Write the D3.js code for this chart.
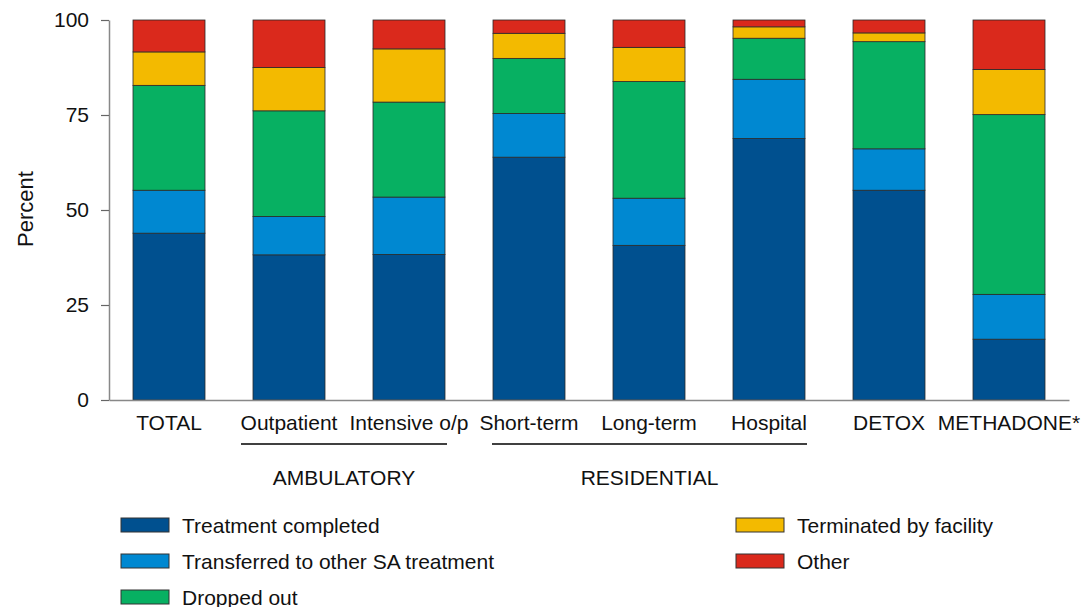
<!DOCTYPE html>
<html>
<head>
<meta charset="utf-8">
<script src="https://cdn.jsdelivr.net/npm/d3@7"></script>
<style>
  html, body { margin: 0; padding: 0; background: #fff; }
  svg { display: block; font-family: "Liberation Sans", Arial, Helvetica, sans-serif; }
</style>
</head>
<body>
<svg id="chart" width="1082" height="607"></svg>
<script>
const categories = ["TOTAL", "Outpatient", "Intensive o/p", "Short-term", "Long-term", "Hospital", "DETOX", "METHADONE*"];
const seriesNames = ["Treatment completed", "Transferred to other SA treatment", "Dropped out", "Terminated by facility", "Other"];
const completed   = [43.9, 38.2, 38.3, 63.9, 40.7, 68.8, 55.2, 16.0];
const transferred = [11.3, 10.1, 15.1, 11.5, 12.4, 15.6, 10.9, 11.8];
const droppedOut  = [27.6, 27.8, 25.0, 14.5, 30.7, 10.8, 28.2, 47.3];
const terminated  = [ 8.8, 11.4, 14.0,  6.6,  9.0,  3.0,  2.3, 11.9];
const other       = [ 8.4, 12.5,  7.6,  3.5,  7.2,  1.8,  3.4, 13.0];
const yTicks = [0, 25, 50, 75, 100];
const groups = [
  { label: "AMBULATORY", from: "Outpatient", to: "Intensive o/p" },
  { label: "RESIDENTIAL", from: "Short-term", to: "Hospital" }
];
const colors = ["#00508F", "#0088D1", "#07B062", "#F3BA00", "#DA291C"];

const seriesValues = [completed, transferred, droppedOut, terminated, other];
const rows = categories.map((c, i) => {
  const r = { cat: c };
  seriesNames.forEach((s, j) => r[s] = seriesValues[j][i]);
  return r;
});

const svg = d3.select("#chart");
const mLeft = 109, mRight = 1069, mTop = 20, mBottom = 400;
const FS = 21;

const x = d3.scaleBand().domain(categories).range([mLeft, mRight]).paddingInner(0.4).paddingOuter(0.2);
const y = d3.scaleLinear().domain([0, 100]).range([mBottom, mTop]);
const color = d3.scaleOrdinal().domain(seriesNames).range(colors);

const stacked = d3.stack().keys(seriesNames)(rows);

// bars
svg.append("g").selectAll("g").data(stacked).join("g")
  .attr("fill", d => color(d.key))
  .selectAll("rect").data(d => d).join("rect")
  .attr("x", d => x(d.data.cat))
  .attr("width", x.bandwidth())
  .attr("y", d => y(Math.min(d[1], 100)))
  .attr("height", d => y(d[0]) - y(Math.min(d[1], 100)))
  .attr("stroke", "#2a2a2a")
  .attr("stroke-width", 0.8);

// y axis
const yAxis = d3.axisLeft(y).tickValues(yTicks).tickSize(8).tickPadding(12).tickSizeOuter(0);
const gy = svg.append("g").attr("transform", `translate(${mLeft},0)`).call(yAxis);
gy.select(".domain").attr("stroke", "#888").attr("stroke-width", 1.5);
gy.selectAll(".tick line").attr("stroke", "#666").attr("stroke-width", 1.2);
gy.selectAll(".tick text").attr("font-size", FS).attr("fill", "#111").attr("font-family", "Liberation Sans, Arial, sans-serif");

// x axis
const xAxis = d3.axisBottom(x).tickSize(0).tickPadding(15).tickSizeOuter(0);
const gx = svg.append("g").attr("transform", `translate(0,${mBottom})`).call(xAxis);
gx.select(".domain").attr("stroke", "#888").attr("stroke-width", 1.5);
gx.selectAll(".tick text").attr("font-size", FS).attr("fill", "#111").attr("font-family", "Liberation Sans, Arial, sans-serif");

// y label
svg.append("text")
  .attr("transform", "translate(33,209) rotate(-90)")
  .attr("text-anchor", "middle")
  .attr("font-size", 22).attr("fill", "#111")
  .text("Percent");

// group lines and labels
groups.forEach((g, i) => {
  const x0 = x(g.from) - (i === 0 ? 12 : 1);
  const x1 = x(g.to) + x.bandwidth() + 2;
  svg.append("line").attr("x1", x0).attr("x2", x1).attr("y1", 444).attr("y2", 444)
    .attr("stroke", "#000").attr("stroke-width", 1.4);
  svg.append("text").attr("x", (x0 + x1) / 2).attr("y", 485)
    .attr("text-anchor", "middle").attr("font-size", FS).attr("fill", "#111")
    .text(g.label);
});

// legend
const legendPos = [
  { sx: 121, tx: 182, cy: 525 },
  { sx: 121, tx: 182, cy: 561 },
  { sx: 121, tx: 182, cy: 597 },
  { sx: 736, tx: 797, cy: 525 },
  { sx: 736, tx: 797, cy: 561 }
];
const lg = svg.append("g").selectAll("g").data(seriesNames).join("g");
lg.append("rect")
  .attr("x", (d, i) => legendPos[i].sx)
  .attr("y", (d, i) => legendPos[i].cy - 7)
  .attr("width", 48).attr("height", 14)
  .attr("fill", d => color(d))
  .attr("stroke", "#333").attr("stroke-width", 1);
lg.append("text")
  .attr("x", (d, i) => legendPos[i].tx)
  .attr("y", (d, i) => legendPos[i].cy + 7.5)
  .attr("font-size", FS).attr("fill", "#111")
  .text(d => d);
</script>
</body>
</html>
